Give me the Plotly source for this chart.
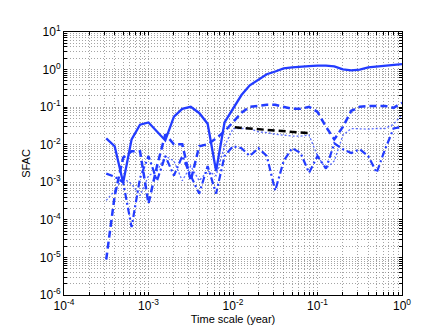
import plotly.graph_objects as go

# time scale grid (year), 10 points per decade
scale = [3.16e-4, 3.98e-4, 5.01e-4, 6.31e-4, 7.94e-4, 1.0e-3, 1.26e-3, 1.58e-3, 2.0e-3,
         2.51e-3, 3.16e-3, 3.98e-3, 5.01e-3, 6.31e-3, 7.94e-3, 1.0e-2, 1.26e-2, 1.58e-2,
         2.0e-2, 2.51e-2, 3.16e-2, 3.98e-2, 5.01e-2, 6.31e-2, 7.94e-2, 0.1, 0.126, 0.158,
         0.2, 0.251, 0.316, 0.398, 0.501, 0.631, 0.794, 1.0]

sfac_solid = [0.0147, 0.0091, 0.00097, 0.0139, 0.034, 0.039, 0.0225, 0.013, 0.056, 0.09,
              0.102, 0.07, 0.036, 0.002, 0.039, 0.09, 0.21, 0.38, 0.55, 0.75, 0.89, 1.07,
              1.14, 1.21, 1.24, 1.28, 1.28, 1.21, 1.01, 0.95, 1.0, 1.14, 1.21, 1.28, 1.32, 1.4]

sfac_dash = [8.8e-6, 4.4e-4, 0.0045, 0.0067, 0.0067, 0.00027, 0.0027, 0.0188, 0.0103, 0.0103,
             0.0011, 0.0091, 0.0103, 0.0147, 0.0225, 0.041, 0.071, 0.102, 0.108, 0.115, 0.115,
             0.102, 0.09, 0.09, 0.102, 0.075, 0.03, 0.0139, 0.03, 0.08, 0.102, 0.108, 0.108,
             0.108, 0.096, 0.13]

sfac_dashdot = [0.0017, 0.0014, 0.001, 6.4e-5, 0.0013, 0.005, 0.0011, 0.005, 0.0015, 0.005,
                0.0015, 0.0005, 0.0027, 0.0005, 0.005, 0.0091, 0.0081, 0.005, 0.0081, 0.005,
                0.0006, 0.0037, 0.0081, 0.006, 0.0018, 0.005, 0.0023, 0.0109, 0.0076, 0.006,
                0.0076, 0.005, 0.0018, 0.0076, 0.027, 0.03]

sfac_dot = [0.00033, 0.0006, 0.0013, 0.0009, 0.00044, 0.0015, 0.002, 0.005, 0.0037, 0.0011,
            0.0027, 0.0011, 0.002, 0.0015, 0.0091, 0.027, 0.027, 0.027, 0.022, 0.021, 0.019,
            0.018, 0.017, 0.017, 0.018, 0.005, 0.0023, 0.0037, 0.018, 0.027, 0.026, 0.026,
            0.027, 0.027, 0.035, 0.063]

# black dashed fit
fit_x = [0.0105, 0.085]
fit_y = [0.029, 0.020]

x_decades = [-4, -3, -2, -1, 0]
y_decades = [-6, -5, -4, -3, -2, -1, 0, 1]

BLUE = "rgb(35,60,255)"
FONT = "Liberation Sans, Arial, sans-serif"


def log_ticks(decades):
    vals, text = [], []
    for d in decades:
        for m in range(1, 10):
            if d == decades[-1] and m > 1:
                break
            vals.append(m * 10.0 ** d)
            text.append(f"10<sup>{d}</sup>" if m == 1 else "")
    return vals, text


fig = go.Figure()
fig.add_trace(go.Scatter(x=scale, y=sfac_solid, mode="lines",
                         line=dict(color=BLUE, width=2.3)))
fig.add_trace(go.Scatter(x=scale, y=sfac_dash, mode="lines",
                         line=dict(color=BLUE, width=2.5, dash="7px,4px")))
fig.add_trace(go.Scatter(x=scale, y=sfac_dashdot, mode="lines",
                         line=dict(color=BLUE, width=2.2, dash="7px,3px,2px,3px")))
fig.add_trace(go.Scatter(x=scale, y=sfac_dot, mode="lines",
                         line=dict(color="rgba(35,60,255,0.75)", width=1.3, dash="2px,2px")))
fig.add_trace(go.Scatter(x=fit_x, y=fit_y, mode="lines",
                         line=dict(color="black", width=2.5, dash="7px,4px")))

xv, xt = log_ticks(x_decades)
yv, yt = log_ticks(y_decades)

axis_common = dict(
    type="log", showline=True, linecolor="black", linewidth=1, mirror="ticks",
    ticks="inside", ticklen=3, tickcolor="black",
    showgrid=True, gridcolor="rgba(90,90,90,0.55)", griddash="1px,2px", gridwidth=1,
    zeroline=False, tickfont=dict(family=FONT, size=12, color="black"),
)

fig.update_xaxes(axis_common, range=[-4, 0], tickvals=xv, ticktext=xt,
                 title=dict(text="Time scale (year)", standoff=2,
                            font=dict(family=FONT, size=11, color="black")))
fig.update_yaxes(axis_common, range=[-6, 1], tickvals=yv, ticktext=yt,
                 title=dict(text="SFAC", standoff=6,
                            font=dict(family=FONT, size=11, color="black")))

fig.update_layout(
    width=436, height=327,
    margin=dict(l=56, r=42, t=24, b=36),
    paper_bgcolor="white", plot_bgcolor="white",
    showlegend=False,
)

fig.write_html("out.html")
